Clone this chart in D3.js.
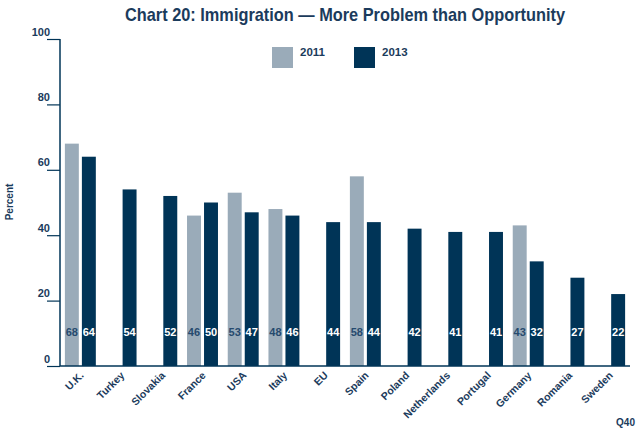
<!DOCTYPE html>
<html><head><meta charset="utf-8">
<script src="https://cdn.jsdelivr.net/npm/d3@7"></script>
<style>
body{margin:0;background:#fff;}
svg{display:block;font-family:"Liberation Sans",Arial,sans-serif;}
</style></head>
<body><svg id="c" width="640" height="438"></svg>
<script>
const categories = ["U.K.","Turkey","Slovakia","France","USA","Italy","EU","Spain","Poland","Netherlands","Portugal","Germany","Romania","Sweden"];
const values2011 = [68,null,null,46,53,48,null,58,null,null,null,43,null,null];
const values2013 = [64,54,52,50,47,46,44,44,42,41,41,32,27,22];
const seriesNames = ["2011","2013"];
const yTicks = [0,20,40,60,80,100];

const navy = "#003457", gray = "#9aabb9", textC = "#1b3b5c";
const svg = d3.select("#c");
const L = 60, R = 630, T = 39, B = 366;

const x = d3.scaleBand().domain(categories).range([L, R]).paddingInner(0).paddingOuter(0);
const bw = x.bandwidth();
const xs = d3.scaleBand().domain(seriesNames).range([bw*0.12, bw*0.88]).paddingInner(0.18);
const y = d3.scaleLinear().domain([0,100]).range([B, T]);
const colors = {"2011": gray, "2013": navy};

// title
svg.append("text").attr("x", 345).attr("y", 21).attr("text-anchor","middle")
  .attr("font-family","'Liberation Sans Narrow','Arial Narrow','Liberation Sans',sans-serif")
  .attr("font-weight","bold").attr("font-size",19).attr("fill",textC)
  .attr("textLength",440).attr("lengthAdjust","spacingAndGlyphs")
  .text("Chart 20: Immigration \u2014 More Problem than Opportunity");

// legend
const legX = [272, 354];
seriesNames.forEach((s,i)=>{
  svg.append("rect").attr("x",legX[i]).attr("y",47).attr("width",21).attr("height",21).attr("fill",colors[s]);
  svg.append("text").attr("x",legX[i]+28).attr("y",55.5).attr("font-size",11.5).attr("font-weight","bold")
    .attr("fill",textC).text(s);
});

// data rows
const rows = [];
categories.forEach((c,i)=>{
  if (values2011[i]!=null) rows.push({c, s:"2011", v:values2011[i]});
  if (values2013[i]!=null) rows.push({c, s:"2013", v:values2013[i]});
});

svg.append("g").selectAll("rect").data(rows).join("rect")
  .attr("x", d=>x(d.c)+xs(d.s)).attr("width", xs.bandwidth())
  .attr("y", d=>y(d.v)).attr("height", d=>y(0)-y(d.v))
  .attr("fill", d=>colors[d.s]);

svg.append("g").selectAll("text").data(rows).join("text")
  .attr("x", d=>x(d.c)+xs(d.s)+xs.bandwidth()/2).attr("y", 336)
  .attr("text-anchor","middle").attr("font-size",11).attr("font-weight","bold")
  .attr("fill", d=>d.s==="2011" ? "#264a6e" : "#ffffff")
  .text(d=>d.v);

// y axis
const yAxis = d3.axisLeft(y).tickValues(yTicks).tickSize(13).tickFormat(d3.format("d"));
const gy = svg.append("g").attr("transform",`translate(${L},0)`).call(yAxis);
gy.select(".domain").remove();
gy.selectAll(".tick line").attr("stroke", navy).attr("stroke-width",1.2);
gy.selectAll(".tick text").attr("x",-10).attr("dy",null).attr("y",-4)
  .attr("font-size",11).attr("font-weight","bold").attr("fill",textC)
  .attr("font-family","'Liberation Sans',Arial,sans-serif");
svg.append("line").attr("x1",L).attr("x2",L).attr("y1",T).attr("y2",B).attr("stroke",navy).attr("stroke-width",1.5);

// x axis
svg.append("line").attr("x1",L).attr("x2",R).attr("y1",B).attr("y2",B).attr("stroke",navy).attr("stroke-width",1.5);
svg.append("g").selectAll("text").data(categories).join("text")
  .attr("transform", d=>`translate(${x(d)+bw/2+4},376) rotate(-45)`)
  .attr("text-anchor","end").attr("font-size",10.5).attr("font-weight","bold").attr("fill",textC)
  .text(d=>d);

// y label
svg.append("text").attr("transform","translate(13,202) rotate(-90)").attr("text-anchor","middle")
  .attr("font-size",10).attr("font-weight","bold").attr("fill",textC).text("Percent");

// source note
svg.append("text").attr("x",635).attr("y",426).attr("text-anchor","end")
  .attr("font-size",10).attr("font-weight","bold").attr("fill",textC).text("Q40");
</script></body></html>
